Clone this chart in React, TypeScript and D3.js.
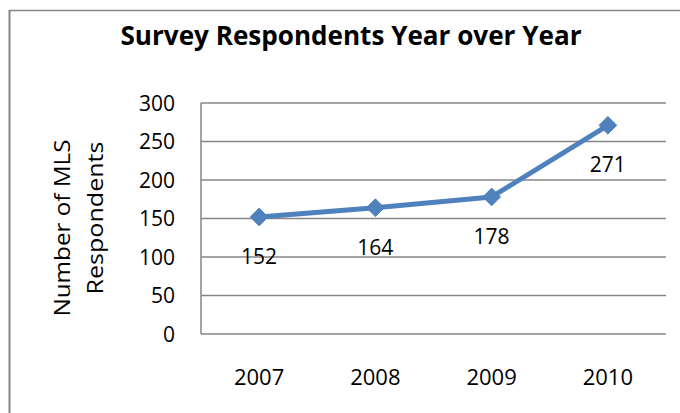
import React from "react";
import * as d3 from "d3";

const years = ["2007", "2008", "2009", "2010"];
const respondents = [152, 164, 178, 271];
const yTicks = [0, 50, 100, 150, 200, 250, 300];
const titleText = "Survey Respondents Year over Year";
const yTitleLine1 = "Number  of  MLS";
const yTitleLine2 = "Respondents";

const W = 680;
const H = 413;
const FONT = "'Open Sans', 'Liberation Sans', sans-serif";
const GRID = "#868686";
const BLUE = "#4F81BD";

export default function App() {
  const left = 201;
  const right = 666;
  const top = 103;
  const bottom = 334;

  const x = d3.scaleBand<string>().domain(years).range([left, right]);
  const y = d3.scaleLinear().domain([0, 300]).range([bottom, top]);
  const cx = (d: string) => (x(d) as number) + x.bandwidth() / 2;

  const line = d3
    .line<number>()
    .x((_, i) => cx(years[i]))
    .y((v) => y(v));

  const diamond = d3.symbol().type(d3.symbolDiamond2).size(200)();

  return (
    <svg
      width={W}
      height={H}
      style={{ position: "absolute", left: 0, top: 0, background: "#fff" }}
    >
      <rect x={0} y={0} width={W} height={H} fill="#fff" />
      {/* outer chart border */}
      <line x1={9.5} y1={10.5} x2={W} y2={10.5} stroke={GRID} strokeWidth={1.5} />
      <line x1={9.5} y1={10} x2={9.5} y2={H} stroke={GRID} strokeWidth={2} />

      <text
        x={351}
        y={45}
        textAnchor="middle"
        fontFamily={FONT}
        fontWeight="bold"
        fontSize={27}
        textLength={461}
        lengthAdjust="spacingAndGlyphs"
        fill="#000"
      >
        {titleText}
      </text>

      {/* gridlines */}
      {yTicks.map((t) => (
        <line
          key={"g" + t}
          x1={left}
          x2={right}
          y1={y(t)}
          y2={y(t)}
          stroke={GRID}
          strokeWidth={1.5}
        />
      ))}
      <line x1={left} x2={left} y1={top} y2={bottom} stroke={GRID} strokeWidth={1.5} />

      {/* y tick labels */}
      {yTicks.map((t) => (
        <text
          key={"t" + t}
          x={175}
          y={y(t)}
          dy="0.36em"
          textAnchor="end"
          fontFamily={FONT}
          fontSize={21}
          fill="#000"
        >
          {t}
        </text>
      ))}

      {/* y axis title */}
      <text
        transform={`translate(70, 228) rotate(-90)`}
        textAnchor="middle"
        fontFamily={FONT}
        fontSize={22}
        textLength={177}
        lengthAdjust="spacingAndGlyphs"
        fill="#000"
      >
        {yTitleLine1}
      </text>
      <text
        transform={`translate(103, 218) rotate(-90)`}
        textAnchor="middle"
        fontFamily={FONT}
        fontSize={22}
        textLength={153}
        lengthAdjust="spacingAndGlyphs"
        fill="#000"
      >
        {yTitleLine2}
      </text>

      {/* x labels */}
      {years.map((yr) => (
        <text
          key={"x" + yr}
          x={cx(yr)}
          y={385}
          textAnchor="middle"
          fontFamily={FONT}
          fontSize={22}
          fill="#000"
        >
          {yr}
        </text>
      ))}

      {/* line */}
      <path
        d={line(respondents) || ""}
        fill="none"
        stroke={BLUE}
        strokeWidth={5}
        strokeLinejoin="round"
      />
      {respondents.map((v, i) => (
        <path
          key={"m" + i}
          d={diamond || ""}
          transform={`translate(${cx(years[i])}, ${y(v)})`}
          fill={BLUE}
          stroke={BLUE}
          strokeWidth={1}
        />
      ))}

      {/* data labels */}
      {respondents.map((v, i) => (
        <text
          key={"l" + i}
          x={cx(years[i])}
          y={y(v) + 47}
          textAnchor="middle"
          fontFamily={FONT}
          fontSize={21}
          fill="#000"
        >
          {v}
        </text>
      ))}
    </svg>
  );
}
